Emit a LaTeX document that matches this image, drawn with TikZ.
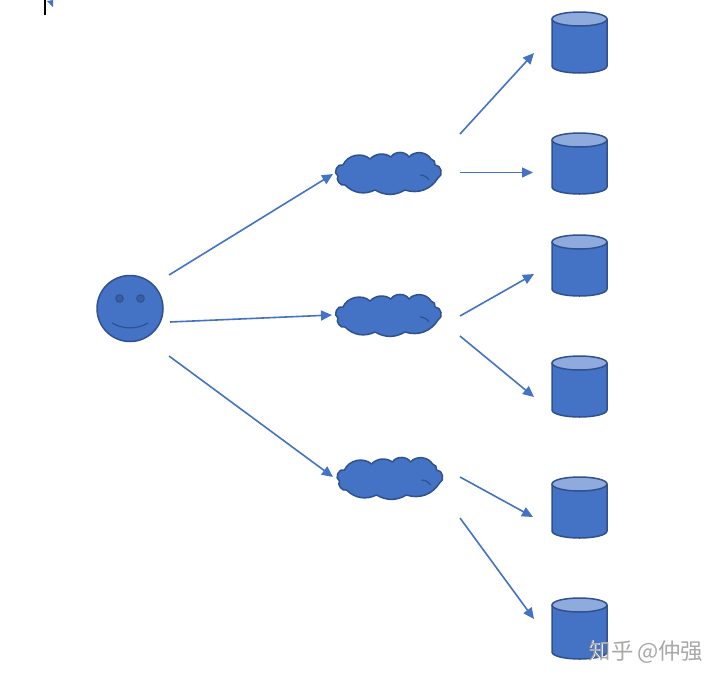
\documentclass[tikz,border=0pt]{standalone}
\usepackage{fontspec}
\newfontfamily\cjkwm{Noto Sans CJK SC}
\usetikzlibrary{calc,arrows.meta}
\definecolor{shapefill}{HTML}{4472C4}
\definecolor{shapeline}{HTML}{2F528F}
\definecolor{lidfill}{HTML}{8FAADC}
\tikzset{
  x=1pt,y=-1pt,
  link/.style={draw=shapefill,line width=1.6pt,-{Triangle[length=11pt,width=10pt]}},
  outline/.style={draw=shapeline,line width=1.5pt,fill=shapefill,line join=round},
  detail/.style={draw=shapeline,line width=1.2pt,fill=none},
  anchorbox/.style={inner sep=0pt,outer sep=0pt,minimum size=0pt},
}
\newcommand{\dbshape}[3]{%
  \begin{scope}[shift={(#2,#3)}]
    \path[outline] (-27.5,0) -- (-27.5,47) .. controls (-27.5,51) and (-15,54) .. (0,54) .. controls (15,54) and (27.5,51) .. (27.5,47) -- (27.5,0) -- cycle;
    \path[outline,fill=lidfill] (-27.5,0) .. controls (-27.5,-4) and (-15,-7) .. (0,-7) .. controls (15,-7) and (27.5,-4) .. (27.5,0) .. controls (27.5,4) and (15,7) .. (0,7) .. controls (-15,7) and (-27.5,4) .. (-27.5,0) -- cycle;
    \node[anchorbox] (#1) at (0,23.5) {};
  \end{scope}}
\newcommand{\cloudshape}[3]{%
  \begin{scope}[shift={(#2,#3)}]
    \path[outline] (-45,-8)
      to[bend left=55] (-18,-14)
      to[bend left=40] (3,-16)
      to[bend left=60] (21,-16)
      to[bend left=55] (43,-14)
      to[bend left=50] (47,-8)
      to[bend left=80,looseness=1.2] (50,5)
      to[bend left=38] (17,17)
      to[bend left=30] (-13,17)
      to[bend left=35] (-43,12)
      to[bend left=80] (-50,3)
      to[bend left=90,looseness=1.3] (-45,-8) -- cycle;
    \draw[detail] (32,2) .. controls (36,2) and (39,4) .. (41,7);
    \node[anchorbox] (#1) at (0,0) {};
  \end{scope}}

\begin{document}
\begin{tikzpicture}
\useasboundingbox (0,0) rectangle (720,681);
\fill[white] (0,0) rectangle (720,681);

% text cursor and clipped mark at the top edge
\coordinate (caretTop) at (45,0);
\coordinate (caretEnd) at (45,15);
\draw[black,line width=1.3pt] (caretTop) -- (caretEnd);
\fill[shapefill] (47,1) -- (53,0) -- (53,7) -- cycle;

% face
\node[anchorbox] (face) at (130,308.5) {};
\path[outline] (face) circle[radius=33];
\path[draw=shapeline,line width=1pt,fill=shapeline!60!shapefill] ($(face)+(-10.5,-10)$) circle[radius=3.8];
\path[draw=shapeline,line width=1pt,fill=shapeline!60!shapefill] ($(face)+(10.5,-10)$) circle[radius=3.8];
\draw[detail] ($(face)+(-18,14.5)$) .. controls ($(face)+(-7,21)$) and ($(face)+(7,21)$) .. ($(face)+(18,14.5)$);

% clouds
\cloudshape{cloudA}{388}{173}
\cloudshape{cloudB}{388}{315}
\cloudshape{cloudC}{389.5}{478}

% cylinders
\dbshape{dbA}{579.5}{19}
\dbshape{dbB}{579.5}{140}
\dbshape{dbC}{579.5}{242}
\dbshape{dbD}{579.5}{363}
\dbshape{dbE}{579.5}{484}
\dbshape{dbF}{579.5}{605}

% connectors
\draw[link] ($(face)+(39,-33.5)$) -- ($(cloudA)+(-55,1)$);
\draw[link] ($(face)+(40,13.5)$) -- ($(cloudB)+(-56,0)$);
\draw[link] ($(face)+(39,47.5)$) -- ($(cloudC)+(-56.5,-1)$);
\draw[link] ($(cloudA)+(72,-39)$) -- ($(dbA)+(-45.5,10.5)$);
\draw[link] ($(cloudA)+(72,-0.5)$) -- ($(dbB)+(-46.5,9)$);
\draw[link] ($(cloudB)+(72,1)$) -- ($(dbC)+(-45.5,8.5)$);
\draw[link] ($(cloudB)+(72,21)$) -- ($(dbD)+(-45.5,10.5)$);
\draw[link] ($(cloudC)+(70.5,-1)$) -- ($(dbE)+(-46.5,9.5)$);
\draw[link] ($(cloudC)+(70.5,40)$) -- ($(dbF)+(-45.5,-9.5)$);

% watermark
\node[anchorbox,text=white,font=\cjkwm\fontsize{22.4}{22.4}\selectfont] (wmShadow) at (646.8,652.5) {知乎\,@仲强};
\node[anchorbox,text=black!45,font=\cjkwm\fontsize{22.4}{22.4}\selectfont,opacity=0.75] (wm) at (646,651.7) {知乎\,@仲强};
\end{tikzpicture}
\end{document}
